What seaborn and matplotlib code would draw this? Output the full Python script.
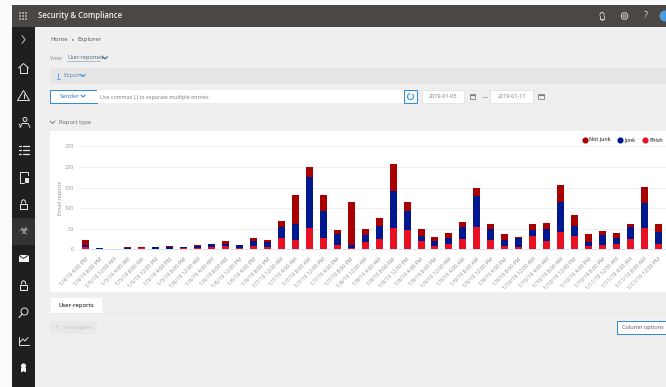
import matplotlib
matplotlib.use("Agg")
import matplotlib.pyplot as plt
from matplotlib.lines import Line2D
from matplotlib.patches import Rectangle, Circle, Polygon
import pandas as pd
import seaborn as sns

W, H = 666, 387

time_labels = [
    "1/4/19 4:00 PM", "1/4/19 8:00 PM",
    "1/5/19 12:00 AM", "1/5/19 4:00 AM", "1/5/19 8:00 AM", "1/5/19 12:00 PM", "1/5/19 4:00 PM", "1/5/19 8:00 PM",
    "1/6/19 12:00 AM", "1/6/19 4:00 AM", "1/6/19 8:00 AM", "1/6/19 12:00 PM", "1/6/19 4:00 PM", "1/6/19 8:00 PM",
    "1/7/19 12:00 AM", "1/7/19 4:00 AM", "1/7/19 8:00 AM", "1/7/19 12:00 PM", "1/7/19 4:00 PM", "1/7/19 8:00 PM",
    "1/8/19 12:00 AM", "1/8/19 4:00 AM", "1/8/19 8:00 AM", "1/8/19 12:00 PM", "1/8/19 4:00 PM", "1/8/19 8:00 PM",
    "1/9/19 12:00 AM", "1/9/19 4:00 AM", "1/9/19 8:00 AM", "1/9/19 12:00 PM", "1/9/19 4:00 PM", "1/9/19 8:00 PM",
    "1/10/19 12:00 AM", "1/10/19 4:00 AM", "1/10/19 8:00 AM", "1/10/19 12:00 PM", "1/10/19 4:00 PM", "1/10/19 8:00 PM",
    "1/11/19 12:00 AM", "1/11/19 4:00 AM", "1/11/19 8:00 AM", "1/11/19 12:00 PM",
]
phish = [6, 1, 0, 1, 2, 1, 1, 4, 3, 6, 8, 3, 8, 5, 28, 22, 52, 28, 10, 2, 18,
         25, 52, 47, 19, 8, 12, 25, 55, 22, 8, 6, 32, 20, 41, 32, 8, 11, 14, 25, 51, 14]
junk = [5, 2, 0, 1, 2, 4, 5, 1, 6, 6, 4, 7, 12, 13, 26, 40, 124, 64, 27, 8, 17,
        32, 89, 47, 13, 13, 16, 28, 74, 27, 15, 21, 15, 29, 75, 25, 10, 24, 14, 28, 61, 29]
not_junk = [11, 1, 1, 4, 1, 1, 1, 1, 2, 1, 9, 1, 7, 5, 15, 69, 23, 39, 10, 104, 15,
            19, 66, 22, 17, 10, 11, 13, 21, 12, 13, 2, 15, 14, 39, 26, 18, 9, 11, 8, 40, 18]
y_ticks = [0, 50, 100, 150, 200, 250]

COL_NOT_JUNK = "#a80000"
COL_JUNK = "#00188f"
COL_PHISH = "#e81123"
PAGE = "#efefef"
BLUE = "#2b88d8"

sns.set_style("white")
plt.rcParams["font.family"] = ["Open Sans", "DejaVu Sans"]

fig = plt.figure(figsize=(W / 100, H / 100), dpi=100, facecolor="#fbfbfb")

# Page furniture lives on a full-figure axes measured in pixels from the top left.
ui = fig.add_axes([0, 0, 1, 1], zorder=0)
ui.set_xlim(0, W)
ui.set_ylim(H, 0)
ui.axis("off")


def box(x, y, w, h, fc, ec="none", lw=0.8, z=1):
    ui.add_patch(Rectangle((x, y), w, h, fc=fc, ec=ec, lw=lw, zorder=z))


def label(x, y, s, size=4.5, color="#5f5f5f", ha="left", **kw):
    ui.text(x, y, s, fontsize=size, color=color, ha=ha, va="center", zorder=5, **kw)


def stroke(xs, ys, color="#e4e4e4", lw=0.7):
    ui.plot(xs, ys, color=color, lw=lw, solid_capstyle="round", zorder=5)


def lock_icon(cx, cy):
    ui.add_patch(Rectangle((cx - 3.2, cy - 0.5), 6.4, 5.5, fc="none", ec="#eeeeee", lw=0.7, zorder=5))
    ui.add_patch(matplotlib.patches.Arc((cx, cy - 0.5), 4.4, 7.5, theta1=180, theta2=360,
                                        ec="#eeeeee", lw=0.7, zorder=5))


box(12, 5, W - 12, H - 5, PAGE)
box(12, 5, W - 12, 22, "#4a4744", z=2)
box(12, 27, 23, H - 27, "#1f1f1f", z=2)
box(12, 218, 23, 27, "#333333", z=2)

# Waffle launcher and product name
for dx in (-3, 0, 3):
    for dy in (-3, 0, 3):
        ui.add_patch(Circle((23 + dx, 16 + dy), 0.8, fc="#f6f6f6", ec="none", zorder=5))
label(37.5, 16, "Security & Compliance", size=5.6, color="#f2f2f2", fontweight="semibold")

# Header icons on the right
ui.add_patch(matplotlib.patches.Arc((602, 15.5), 4.2, 6.5, theta1=180, theta2=360, ec="#dddddd", lw=0.6, zorder=5))
stroke([599.9, 599.9, 604.1, 604.1], [15.5, 18.5, 18.5, 15.5], "#dddddd", 0.6)
stroke([601, 603], [19.8, 19.8], "#dddddd", 0.5)
ui.add_patch(Circle((624.5, 16), 3.3, fc="none", ec="#dddddd", lw=0.7, zorder=5))
ui.add_patch(Circle((624.5, 16), 1.2, fc="none", ec="#dddddd", lw=0.6, zorder=5))
label(646, 16, "?", size=6.5, color="#dddddd", ha="center")
ui.add_patch(Circle((665, 16), 5.5, fc="#4a9be0", ec="none", zorder=5))

# Side rail icons
stroke([22, 25, 22], [35.5, 39.5, 43.5], "#c0c0c0", 0.7)
stroke([18.5, 23.5, 28.5], [68, 63.5, 68])
stroke([20, 20, 27, 27], [67, 73, 73, 67])
ui.add_patch(Polygon([(23.5, 90.5), (29.5, 100.5), (17.5, 100.5)], fc="none", ec="#e4e4e4", lw=0.7, zorder=5))
stroke([23.5, 23.5], [94, 97.5], lw=0.7)
ui.add_patch(Circle((25, 119.5), 2.0, fc="none", ec="#e4e4e4", lw=0.7, zorder=5))
stroke([20, 22, 28, 30], [127.5, 123.5, 123.5, 127.5], lw=0.7)
stroke([19, 21], [124, 127], lw=0.7)
for row in (146, 150, 154):
    stroke([19, 20.5], [row, row], lw=0.9)
    stroke([22.5, 28.5], [row, row], lw=0.9)
stroke([27.5, 27.5, 20, 20, 24], [175, 172, 172, 182.5, 182.5], lw=0.7)
box(24.5, 178, 4.5, 4.5, "#e4e4e4", z=5)
lock_icon(23.5, 204)
label(23.5, 231, "\u2623", size=8, color="#c9c9c9", ha="center", family="DejaVu Sans")
box(18.5, 254.5, 10, 7, "#f2f2f2", z=5)
stroke([18.5, 23.5, 28.5], [255, 258.5, 255], "#1f1f1f", 0.6)
lock_icon(23.5, 285)
ui.add_patch(Circle((24.5, 311.5), 3.5, fc="none", ec="#e4e4e4", lw=0.7, zorder=5))
stroke([22, 19], [314.2, 317.5], lw=0.8)
stroke([19, 19, 28.5], [336.5, 344.5, 344.5], lw=0.7)
stroke([19.5, 23, 25, 28], [342.5, 339, 341, 337.5], lw=0.7)
ui.add_patch(Circle((23.5, 366), 2.6, fc="#f4f4f4", ec="none", zorder=5))
ui.add_patch(Polygon([(21, 368), (26, 368), (26, 372.5), (23.5, 371.2), (21, 372.5)],
                     fc="#f4f4f4", ec="none", zorder=5))

# Breadcrumb and view selector
label(50, 39.5, "Home", color="#555555")
label(72, 39.5, "\u25b8", size=3.2, color="#666666")
label(77, 39.5, "Explorer", color="#555555")
label(50, 58, "View", size=3.9, color="#8a8a8a")
label(67, 58, "User-reported", size=4.0, color="#44607a")
stroke([67, 100], [61.2, 61.2], "#7f93a6", 0.4)
stroke([102.5, 105, 107.5], [56.8, 58.8, 56.8], "#2a5f8f", 0.8)

# Command bar
box(50, 68, 616, 16, "#e6e6e6", z=2)
stroke([58, 58], [73, 77.5], BLUE, 0.5)
stroke([56.5, 59.5], [78.5, 78.5], BLUE, 0.5)
label(63, 76, "Export", size=4.2, color="#4c86ba")
stroke([81, 83, 85], [74.5, 76.5, 74.5], BLUE, 0.8)

# Filter row
box(50, 90, 47, 13, "white", ec=BLUE, lw=0.7, z=2)
label(69.5, 96.8, "Sender", size=4.3, color="#2b79bf", ha="center")
stroke([81, 83, 85], [95, 97, 95], BLUE, 0.8)
box(97, 90, 307, 13, "white", z=2)
label(100, 97, "Use commas (,) to separate multiple entries", size=3.9, color="#7a7a7a")
box(404, 90, 13, 13, "#f5f5f5", ec=BLUE, lw=0.7, z=2)
ui.add_patch(matplotlib.patches.Arc((410.5, 96.5), 6, 6, theta1=-50, theta2=260, ec=BLUE, lw=0.7, zorder=5))
box(422, 90, 42, 13, "white", ec="#e2e2e2", lw=0.6, z=2)
label(443, 97, "2019-01-05", size=4.0, color="#777777", ha="center")
box(490, 90, 43, 13, "white", ec="#e2e2e2", lw=0.6, z=2)
label(511.5, 97, "2019-01-11", size=4.0, color="#777777", ha="center")
stroke([482, 487], [96.5, 96.5], "#9a9a9a", 0.5)
for cx in (472.5, 541):
    box(cx - 2.8, 93.5, 5.6, 5, "#efefef", ec="#808080", lw=0.6, z=3)
    stroke([cx - 2.8, cx + 2.8], [94.8, 94.8], "#808080", 0.8)

# Section header
stroke([50, 52.5, 55], [121, 123.5, 121], "#666666", 0.6)
label(59, 122.5, "Report type", size=4.2, color="#666666")

# Chart card and the panel beneath it
box(50, 131, 616, 161, "white", z=1)
box(51, 298, 51, 15, "white", z=2)
stroke([51, 666], [312.5, 312.5], "#e6e6e6", 0.5)
label(76.5, 305, "User-reports", size=4.2, color="#333333", ha="center", fontweight="semibold")
box(50, 321, 47, 13, "#e9e9e9", z=2)
label(55, 327.5, "+", size=6, color="#c4c4c4")
label(62, 327.5, "Investigate", size=4.2, color="#c4c4c4")
box(617, 321, 52, 13, "white", ec=BLUE, lw=0.7, z=2)
label(622, 327.5, "Column options", size=4.1, color="#555555")

# Stacked report counts per four-hour bucket: tallest layer first, each narrower sum on top.
df = pd.DataFrame({"time": time_labels, "Phish": phish, "Junk": junk, "Not junk": not_junk})
df["Phish+Junk"] = df["Phish"] + df["Junk"]
df["Total"] = df["Phish+Junk"] + df["Not junk"]

x0, x1 = 79, W
y_top, y_base = 146.3, 249.3
ax = fig.add_axes([x0 / W, 1 - y_base / H, (x1 - x0) / W, (y_base - y_top) / H], zorder=3)
ax.patch.set_alpha(0)
for col, colour in (("Total", COL_NOT_JUNK), ("Phish+Junk", COL_JUNK), ("Phish", COL_PHISH)):
    sns.barplot(data=df, x="time", y=col, color=colour, width=0.5, saturation=1,
                order=time_labels, ax=ax, zorder=3, edgecolor="none")

ax.set_xlim(-0.5, -0.5 + (x1 - x0) / 13.96)
ax.set_ylim(0, 250)
ax.set_yticks(y_ticks)
ax.tick_params(axis="y", length=0, labelsize=4.0, labelcolor="#999999", pad=3.5)
ax.grid(axis="y", color="#f0f0f0", lw=0.7, zorder=0)
ax.set_axisbelow(True)
ax.set_xlabel("")
ax.set_ylabel("Email reports", fontsize=4.0, color="#8f8f8f", labelpad=1)
ax.set_xticks(range(len(time_labels)))
ax.set_xticklabels(time_labels, rotation=45, ha="right", rotation_mode="anchor",
                   fontsize=3.9, color="#8f8f8f")
ax.tick_params(axis="x", length=0, pad=5)
# Small separators between the time buckets hang from the baseline.
ax.set_xticks([i - 0.5 for i in range(len(time_labels))], minor=True)
ax.tick_params(axis="x", which="minor", length=3, width=0.5, color="#cfe0ee")
for side in ("top", "right", "left"):
    ax.spines[side].set_visible(False)
ax.spines["bottom"].set_color("#cfe0ee")
ax.spines["bottom"].set_linewidth(0.6)

handles = [Line2D([], [], ls="none", marker="o", ms=3.4, color=c, label=n)
           for n, c in (("Not junk", COL_NOT_JUNK), ("Junk", COL_JUNK), ("Phish", COL_PHISH))]
fig.legend(handles=handles, ncol=3, frameon=False, labelcolor="#444444",
           loc="center right", bbox_to_anchor=(663 / W, 1 - 140 / H), handletextpad=0.0,
           handlelength=1.6, columnspacing=1.0, borderpad=0, borderaxespad=0,
           prop={"weight": "semibold", "size": 3.8})

fig.savefig("out.png", dpi=100, facecolor=fig.get_facecolor())
